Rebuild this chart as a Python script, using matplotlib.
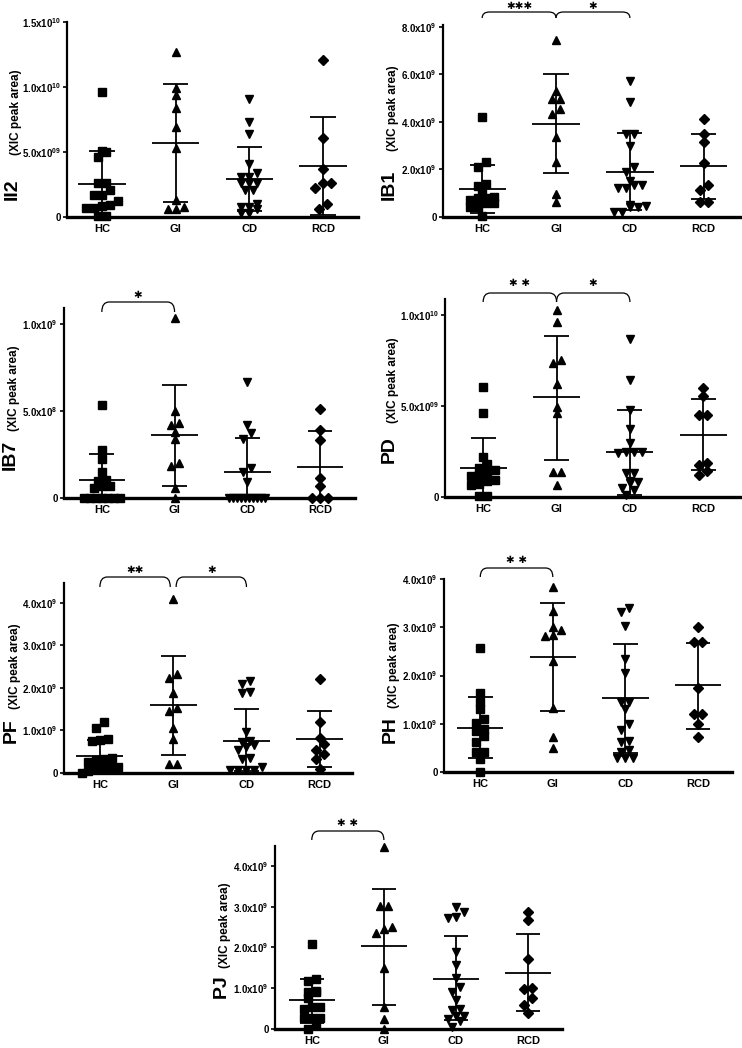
import matplotlib
matplotlib.use("Agg")
import matplotlib.pyplot as plt
from matplotlib import font_manager
from matplotlib.path import Path
from matplotlib.patches import PathPatch
import numpy as np

# ---- data (XIC peak area, in units of 1e9) ----
groups = ["HC", "GI", "CD", "RCD"]
markers = ["s", "^", "v", "D"]

ii2_points = [
    [9.6, 5.1, 5.0, 4.6, 2.6, 2.6, 2.1, 1.7, 1.7, 1.2, 0.95, 0.85, 0.72, 0.72, 0.05, 0.05],
    [12.7, 9.9, 9.4, 8.4, 6.9, 5.3, 1.3, 0.8, 0.6, 0.6],
    [9.1, 7.3, 6.4, 4.1, 3.4, 3.1, 3.1, 2.6, 2.6, 2.6, 2.1, 2.1, 1.0, 0.8, 0.8, 0.6, 0.3, 0.3],
    [12.1, 6.1, 3.7, 2.65, 2.65, 2.25, 0.98, 0.64],
]
ii2_mean = [2.53, 5.67, 2.89, 3.94]
ii2_hi = [5.1, 10.2, 5.41, 7.68]
ii2_lo = [0.0, 1.16, 0.44, 0.18]

ib1_points = [
    [4.2, 2.3, 2.1, 1.4, 1.3, 1.0, 0.85, 0.8, 0.8, 0.7, 0.6, 0.6, 0.4, 0.4, 0.05],
    [7.44, 5.3, 4.95, 4.95, 4.53, 4.32, 3.37, 2.32, 0.98, 0.63],
    [5.73, 4.84, 3.5, 3.5, 3.0, 2.1, 1.9, 1.5, 1.35, 1.35, 1.2, 1.2, 0.5, 0.45, 0.4, 0.4, 0.2, 0.2],
    [4.14, 3.5, 3.16, 2.29, 1.33, 1.12, 0.63, 0.63],
]
ib1_mean = [1.16, 3.92, 1.89, 2.15]
ib1_hi = [2.19, 6.0, 3.55, 3.51]
ib1_lo = [0.18, 1.84, 0.28, 0.77]

ib7_points = [
    [0.535, 0.277, 0.226, 0.147, 0.105, 0.1, 0.07, 0.07, 0.06, 0, 0, 0, 0, 0, 0, 0],
    [1.03, 0.50, 0.43, 0.42, 0.38, 0.34, 0.20, 0.185, 0.06, 0.0],
    [0.663, 0.417, 0.373, 0.338, 0.17, 0.147, 0.09, 0, 0, 0, 0, 0, 0, 0, 0, 0, 0],
    [0.51, 0.39, 0.33, 0.113, 0.067, 0, 0, 0],
]
ib7_mean = [0.105, 0.36, 0.147, 0.178]
ib7_hi = [0.252, 0.65, 0.344, 0.382]
ib7_lo = [0.0, 0.07, 0.01, 0.0]

pd_points = [
    [6.06, 4.62, 2.2, 1.83, 1.6, 1.5, 1.34, 1.2, 1.16, 0.95, 0.9, 0.73, 0.64, 0.05, 0.05],
    [10.3, 9.6, 7.52, 7.34, 6.2, 4.95, 4.59, 1.38, 1.38, 0.64],
    [8.68, 6.42, 4.8, 3.72, 2.94, 2.5, 2.5, 2.5, 2.4, 1.3, 1.3, 0.9, 0.85, 0.75, 0.5, 0.4, 0.1],
    [6.0, 5.54, 4.53, 4.53, 1.87, 1.78, 1.45, 1.2],
]
pd_mean = [1.61, 5.47, 2.48, 3.39]
pd_hi = [3.25, 8.86, 4.77, 5.36]
pd_lo = [0.0, 2.06, 0.13, 1.47]

pf_points = [
    [1.2, 1.05, 0.8, 0.78, 0.75, 0.35, 0.33, 0.3, 0.25, 0.15, 0.14, 0.13, 0.12, 0.1, 0.05, 0.0],
    [4.1, 2.33, 2.24, 1.88, 1.53, 1.45, 1.06, 0.81, 0.2, 0.2],
    [2.16, 2.1, 1.9, 1.88, 0.96, 0.76, 0.74, 0.67, 0.6, 0.55, 0.35, 0.33, 0.14, 0.08, 0.08, 0.06, 0.06],
    [2.22, 1.19, 0.82, 0.68, 0.53, 0.45, 0.33, 0.1],
]
pf_mean = [0.41, 1.59, 0.76, 0.8]
pf_hi = [0.78, 2.75, 1.51, 1.46]
pf_lo = [0.0, 0.43, 0.04, 0.13]

ph_points = [
    [2.56, 1.64, 1.45, 1.31, 1.1, 1.02, 0.9, 0.86, 0.75, 0.62, 0.41, 0.41, 0.26, 0.0],
    [3.83, 3.34, 3.0, 2.94, 2.84, 2.81, 2.3, 1.33, 0.73, 0.5],
    [3.39, 3.31, 3.02, 2.34, 2.05, 1.45, 1.45, 1.3, 1.0, 0.88, 0.65, 0.62, 0.45, 0.42, 0.3, 0.3, 0.28],
    [3.0, 2.7, 2.7, 1.75, 1.21, 1.21, 1.0, 0.73],
]
ph_mean = [0.92, 2.39, 1.54, 1.8]
ph_hi = [1.55, 3.51, 2.66, 2.67]
ph_lo = [0.28, 1.26, 0.4, 0.9]

pj_points = [
    [2.09, 1.22, 1.18, 0.93, 0.92, 0.9, 0.75, 0.55, 0.53, 0.5, 0.28, 0.28, 0.28, 0.1, 0.0],
    [4.47, 3.02, 3.02, 2.5, 2.45, 2.35, 1.5, 0.53, 0.25, 0.0],
    [2.99, 2.86, 2.75, 2.73, 1.88, 1.57, 1.24, 1.04, 0.92, 0.71, 0.49, 0.47, 0.33, 0.33, 0.25, 0.2, 0.06],
    [2.88, 2.67, 1.72, 1.0, 0.97, 0.75, 0.6, 0.4],
]
pj_mean = [0.7, 2.04, 1.23, 1.38]
pj_hi = [1.23, 3.44, 2.27, 2.33]
pj_lo = [0.14, 0.6, 0.22, 0.43]

# ---- fonts ----
names = {f.name for f in font_manager.fontManager.ttflist}
narrow = "Liberation Sans Narrow" if "Liberation Sans Narrow" in names else "Liberation Sans"
plt.rcParams["font.family"] = ["Liberation Sans", "DejaVu Sans"]
plt.rcParams["font.weight"] = "bold"
plt.rcParams["mathtext.fontset"] = "custom"
plt.rcParams["mathtext.rm"] = narrow + ":bold"
plt.rcParams["mathtext.it"] = narrow + ":bold"
plt.rcParams["mathtext.bf"] = narrow + ":bold"

W, H = 742, 1048
fig = plt.figure(figsize=(W / 100, H / 100), dpi=100)


def swarm(vals, ppu, ppx, d_px=8.0, h_px=6.5, max_w=36.0):
    v = np.sort(np.asarray(vals, dtype=float))
    offs = np.zeros(len(v))
    i = 0
    while i < len(v):
        j = i
        while j + 1 < len(v) and (v[j + 1] - v[i]) * ppu < h_px:
            j += 1
        n = j - i + 1
        step = min(d_px, max_w / max(n - 1, 1))
        offs[i:j + 1] = (np.arange(n) - (n - 1) / 2) * step / ppx
        i = j + 1
    return v, offs


def bracket(ax, x1, x2, yh, ye, r=0.1):
    verts = [(x1, ye), (x1, yh), (x1 + r, yh), (x2 - r, yh), (x2, yh), (x2, ye)]
    codes = [Path.MOVETO, Path.CURVE3, Path.CURVE3, Path.LINETO, Path.CURVE3, Path.CURVE3]
    ax.add_patch(PathPatch(Path(verts, codes), fill=False, lw=0.9, color="black",
                           clip_on=False))


def panel(name, points, mean, hi, lo, px, xlim, ymax, ticks, ticklabels,
          brackets, lab_x, name_y, small_y):
    x0, x1, yt, yb = px
    ax = fig.add_axes([x0 / W, 1 - yb / H, (x1 - x0) / W, (yb - yt) / H])
    ax.set_xlim(*xlim)
    ax.set_ylim(0, ymax)
    ppu = (yb - yt) / ymax
    ppx = (x1 - x0) / (xlim[1] - xlim[0])
    for i, vals in enumerate(points):
        v, o = swarm(vals, ppu, ppx)
        ax.plot(i + o, v, ls="none", marker=markers[i], color="black",
                ms=5.4 if markers[i] != "D" else 4.8, clip_on=False, zorder=4)
        ax.hlines(mean[i], i - 0.32, i + 0.32, color="black", lw=1.3, zorder=3)
        ax.hlines([lo[i], hi[i]], i - 0.17, i + 0.17, color="black", lw=1.3, zorder=3)
        ax.vlines(i, lo[i], hi[i], color="black", lw=1.3, zorder=3)
    for s in ["top", "right"]:
        ax.spines[s].set_visible(False)
    ax.spines["left"].set_linewidth(1.6)
    ax.spines["bottom"].set_linewidth(2.4)
    ax.set_xticks(range(4))
    ax.set_xticklabels(groups, fontsize=8, fontweight="bold")
    ax.set_yticks(ticks)
    ax.set_yticklabels(ticklabels, fontsize=7, fontweight="bold", family=narrow)
    ax.tick_params(axis="y", length=3, width=1.2, pad=1.5)
    ax.tick_params(axis="x", length=0, pad=5)
    for (a, b, stars, top, end, star_off) in brackets:
        bracket(ax, a, b, ymax + top / ppu, ymax + end / ppu)
        ax.text((a + b) / 2, ymax + star_off / ppu, stars, ha="center", va="center",
                fontsize=7.5, family="DejaVu Sans", clip_on=False)
    fig.text(lab_x / W, 1 - name_y / H, name, rotation=90, ha="center", va="bottom",
             fontsize=14, fontweight="bold")
    fig.text((lab_x + 4) / W, 1 - small_y / H, "(XIC peak area)", rotation=90,
             ha="center", va="center", fontsize=8.5, fontweight="bold")
    return ax


sup = lambda m, e: "%sx10$^{%s}$" % (m, e)

panel("II2", ii2_points, ii2_mean, ii2_hi, ii2_lo, (67, 358, 22, 217), (-0.475, 3.475),
      15, [0, 5, 10, 15], ["0", sup("5.0", "09"), sup("1.0", "10"), sup("1.5", "10")],
      [], 12, 200, 112)
panel("IB1", ib1_points, ib1_mean, ib1_hi, ib1_lo, (443, 740, 25, 217), (-0.53, 3.49),
      8.08, [0, 2, 4, 6, 8], ["0"] + [sup("%.1f" % t, "9") for t in (2, 4, 6, 8)],
      [(0, 1, "✱✱✱", 13, 7, 19), (1, 2, "✱", 13, 7, 19)], 389, 200, 108)
panel("IB7", ib7_points, ib7_mean, ib7_hi, ib7_lo, (64, 355, 308, 498), (-0.52, 3.48),
      1.09, [0, 0.5, 1.0], ["0", sup("5.0", "8"), sup("1.0", "9")],
      [(0, 1, "✱", 6, -4, 13)], 10, 470, 388)
panel("PD", pd_points, pd_mean, pd_hi, pd_lo, (445, 740, 299, 497), (-0.52, 3.5),
      10.88, [0, 5, 10], ["0", sup("5.0", "09"), sup("1.0", "10")],
      [(0, 1, "✱ ✱", 6, -3, 16), (1, 2, "✱", 6, -3, 16)], 389, 463, 380)
panel("PF", pf_points, pf_mean, pf_hi, pf_lo, (64, 352, 583, 773), (-0.49, 3.44),
      4.47, [0, 1, 2, 3, 4], ["0"] + [sup("%.1f" % t, "9") for t in (1, 2, 3, 4)],
      [(0, 0.96, "✱✱", 6, -4, 13), (1.04, 2, "✱", 6, -4, 13)], 11, 743, 666)
panel("PH", ph_points, ph_mean, ph_hi, ph_lo, (444, 732, 579, 772), (-0.5, 3.47),
      4.0, [0, 1, 2, 3, 4], ["0"] + [sup("%.1f" % t, "9") for t in (1, 2, 3, 4)],
      [(0, 1, "✱ ✱", 11, 2, 19)], 390, 743, 665)
panel("PJ", pj_points, pj_mean, pj_hi, pj_lo, (275, 562, 846, 1029), (-0.51, 3.47),
      4.49, [0, 1, 2, 3, 4], ["0"] + [sup("%.1f" % t, "9") for t in (1, 2, 3, 4)],
      [(0, 1, "✱ ✱", 15, 6, 23)], 221, 998, 925)

fig.savefig("out.png", dpi=100)
